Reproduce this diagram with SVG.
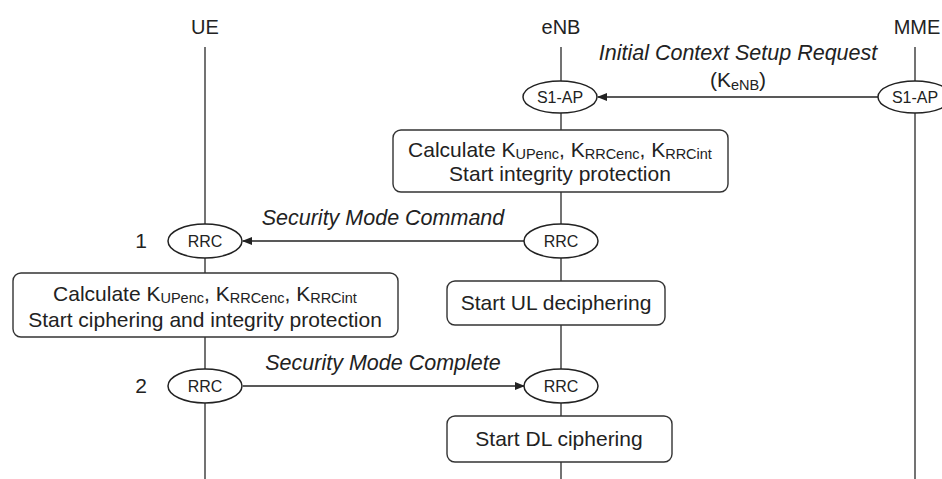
<svg xmlns="http://www.w3.org/2000/svg" width="942" height="479" viewBox="0 0 942 479">
<style>
text{font-family:"Liberation Sans",Arial,sans-serif;fill:#222;}
.hdr{font-size:20px;text-anchor:middle;}
.msg{font-size:21.5px;font-style:italic;text-anchor:middle;}
.box{fill:#fff;stroke:#333;stroke-width:1.4;}
.ell{fill:#fff;stroke:#222;stroke-width:1.5;}
.el{font-size:16px;text-anchor:middle;}
.bt{font-size:21px;text-anchor:middle;}
.life{stroke:#444;stroke-width:1.5;}
.arr{stroke:#222;stroke-width:1.3;fill:none;marker-end:url(#ah);}
.sub{font-size:14.5px;}
</style>
<defs>
<marker id="ah" markerWidth="10" markerHeight="8" refX="9" refY="4" orient="auto" markerUnits="userSpaceOnUse">
<path d="M0,0 L10,4 L0,8 z" fill="#222"/>
</marker>
</defs>
<g id="lifelines">
<line class="life" x1="205" y1="47" x2="205" y2="479"/>
<line class="life" x1="561" y1="47" x2="561" y2="479"/>
<line class="life" x1="915" y1="47" x2="915" y2="479"/>
</g>
<g id="headers">
<text class="hdr" x="205" y="34">UE</text>
<text class="hdr" x="561" y="34">eNB</text>
<text class="hdr" x="917" y="34">MME</text>
</g>
<g id="connectors">
<line class="arr" x1="878" y1="97" x2="598" y2="97"/>
<text class="msg" x="738" y="60">Initial Context Setup Request</text>
<text class="bt" x="738" y="87">(K<tspan class="sub" dy="3">eNB</tspan><tspan dy="-3">)</tspan></text>
<line class="arr" x1="524" y1="241" x2="243" y2="241"/>
<text class="msg" x="383" y="225">Security Mode Command</text>
<line class="arr" x1="243" y1="386" x2="524" y2="386"/>
<text class="msg" x="383" y="370">Security Mode Complete</text>
</g>
<g id="s1ap-enb"><ellipse class="ell" cx="560" cy="97" rx="37" ry="16"/><text class="el" x="560" y="103">S1-AP</text></g>
<g id="s1ap-mme"><ellipse class="ell" cx="915" cy="97" rx="37" ry="16"/><text class="el" x="915" y="103">S1-AP</text></g>
<g id="box-enb-calc">
<rect class="box" x="393" y="130" width="335" height="62" rx="8"/>
<text class="bt" x="560" y="157">Calculate K<tspan class="sub" dy="2">UPenc</tspan><tspan dy="-2">, K</tspan><tspan class="sub" dy="2">RRCenc</tspan><tspan dy="-2">, K</tspan><tspan class="sub" dy="2">RRCint</tspan></text>
<text class="bt" x="560" y="181">Start integrity protection</text>
</g>
<g id="rrc-ue-1"><text class="bt" x="141" y="248">1</text><ellipse class="ell" cx="205" cy="241" rx="37" ry="17"/><text class="el" x="205" y="247">RRC</text></g>
<g id="rrc-enb-1"><ellipse class="ell" cx="561" cy="241" rx="37" ry="17"/><text class="el" x="561" y="247">RRC</text></g>
<g id="box-ue-calc">
<rect class="box" x="13" y="273" width="385" height="64" rx="8"/>
<text class="bt" x="205" y="301">Calculate K<tspan class="sub" dy="2">UPenc</tspan><tspan dy="-2">, K</tspan><tspan class="sub" dy="2">RRCenc</tspan><tspan dy="-2">, K</tspan><tspan class="sub" dy="2">RRCint</tspan></text>
<text class="bt" x="205" y="327">Start ciphering and integrity protection</text>
</g>
<g id="box-ul"><rect class="box" x="447" y="281" width="218" height="44" rx="8"/><text class="bt" x="556" y="310">Start UL deciphering</text></g>
<g id="rrc-ue-2"><text class="bt" x="141" y="393">2</text><ellipse class="ell" cx="205" cy="386" rx="37" ry="17"/><text class="el" x="205" y="392">RRC</text></g>
<g id="rrc-enb-2"><ellipse class="ell" cx="561" cy="386" rx="37" ry="17"/><text class="el" x="561" y="392">RRC</text></g>
<g id="box-dl"><rect class="box" x="447" y="416" width="225" height="46" rx="8"/><text class="bt" x="559" y="446">Start DL ciphering</text></g>
</svg>
